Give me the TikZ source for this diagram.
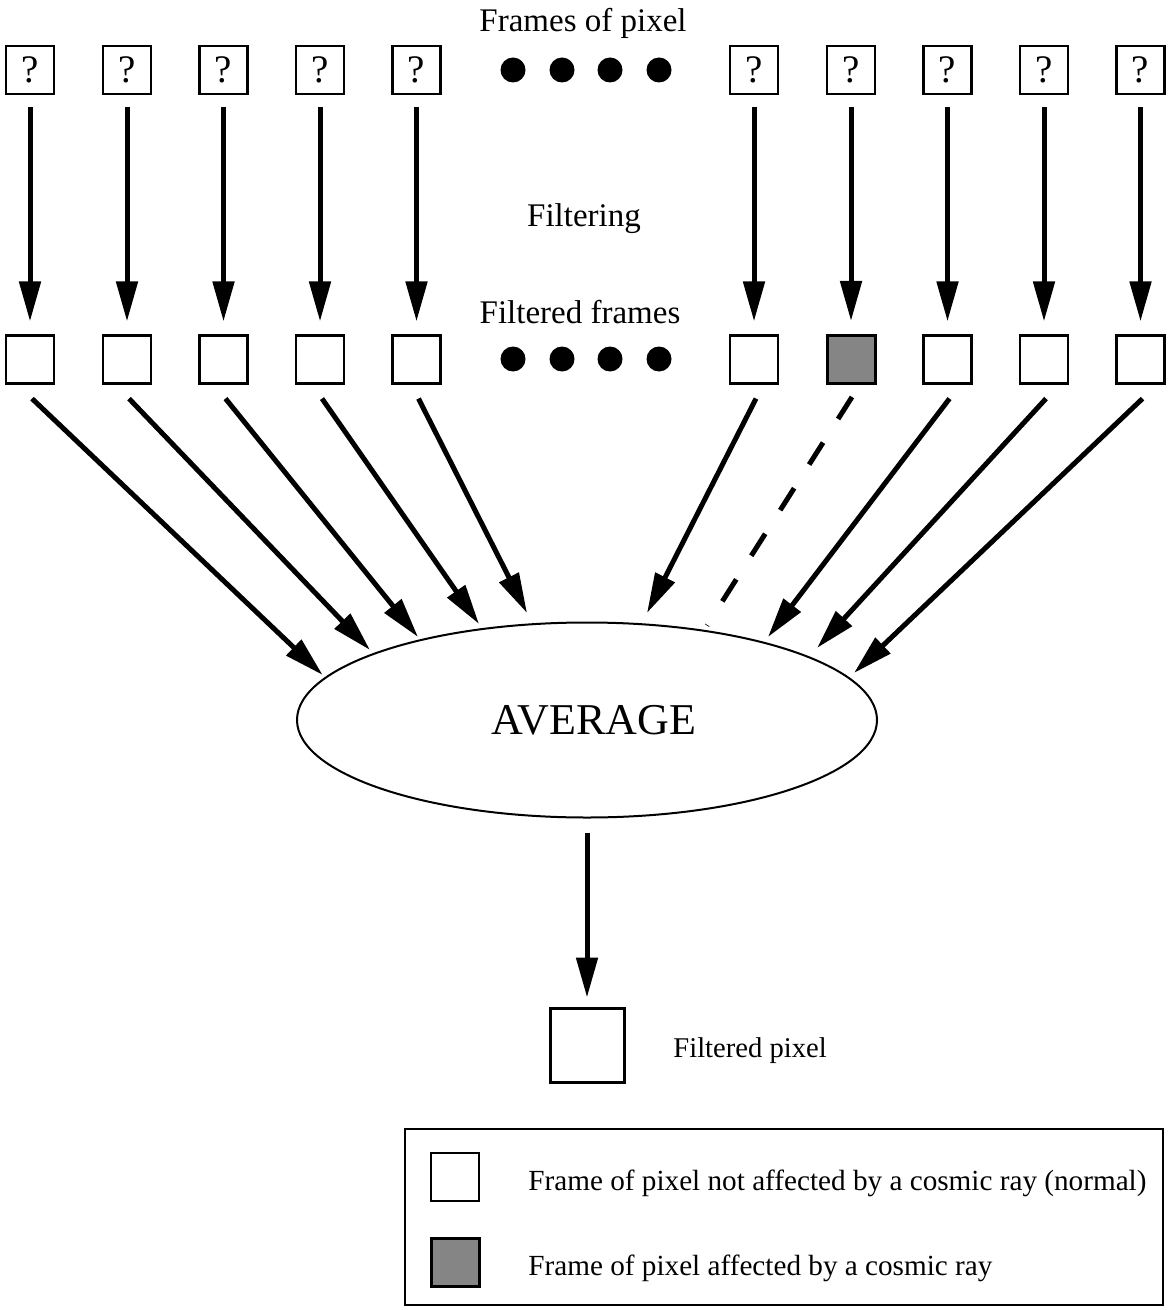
\documentclass[tikz,border=0pt]{standalone}
\usepackage{fontspec}
\setmainfont{Liberation Serif}
\usetikzlibrary{arrows.meta,shapes.geometric,calc}
\begin{document}
\begin{tikzpicture}[x=0.5pt,y=-0.5pt,
  qbox/.style={draw, line width=1.1pt, minimum size=24pt, inner sep=0pt, font=\fontsize{19.5}{19.5}\selectfont},
  plainbox/.style={draw, line width=1.1pt, minimum size=24pt, inner sep=0pt},
  hitbox/.style={plainbox, fill=black!48, line width=1.5pt},
  blob/.style={circle, fill=black, minimum size=12.5pt, inner sep=0pt},
  arr/.style={line width=2.5pt, -{Triangle[length=20pt,width=10.5pt]}},
  dasharr/.style={line width=2.5pt, dash pattern=on 13pt off 14pt},
  lbl/.style={font=\fontsize{16.5}{18}\selectfont, anchor=base, inner sep=0pt},
  legtext/.style={font=\fontsize{14.6}{16}\selectfont, anchor=base west, inner sep=0pt},
]
\useasboundingbox (0,0) rectangle (1167,1310);

% titles
\node[lbl] (tframes) at (583,32) {Frames of pixel};
\node[lbl] (tfilt) at (584,227) {Filtering};
\node[lbl] (tfiltered) at (580,323) {Filtered frames};

% frames of pixel
\node[qbox] (q1) at (30,70) {?};
\node[qbox] (q2) at (127,70) {?};
\node[qbox] (q3) at (223.5,70) {?};
\node[qbox] (q4) at (320,70) {?};
\node[qbox] (q5) at (416.5,70) {?};
\node[qbox] (q6) at (754,70) {?};
\node[qbox] (q7) at (851,70) {?};
\node[qbox] (q8) at (947.5,70) {?};
\node[qbox] (q9) at (1044,70) {?};
\node[qbox] (q10) at (1140.5,70) {?};

% filtered frames
\node[plainbox] (f1) at (30,359.5) {};
\node[plainbox] (f2) at (127,359.5) {};
\node[plainbox] (f3) at (223.5,359.5) {};
\node[plainbox] (f4) at (320,359.5) {};
\node[plainbox] (f5) at (416.5,359.5) {};
\node[plainbox] (f6) at (754,359.5) {};
\node[hitbox] (f7) at (851,359.5) {};
\node[plainbox] (f8) at (947.5,359.5) {};
\node[plainbox] (f9) at (1044,359.5) {};
\node[plainbox] (f10) at (1140.5,359.5) {};

% dots
\foreach \x [count=\k] in {513,562,610,659} {
  \node[blob] (da\k) at (\x,70) {};
  \node[blob] (db\k) at (\x,359) {};
}

% filtering arrows
\foreach \i in {1,...,10} {
  \draw[arr, shorten <=6pt, shorten >=6.5pt] (q\i) -- (f\i);
}

% average
\node[ellipse, draw, line width=1pt, minimum width=290pt, minimum height=97.5pt, inner sep=0pt] (avg) at (587,720) {};
\node[font=\fontsize{22}{22}\selectfont, inner sep=0pt] (avgtext) at (594,720) {AVERAGE};

% arrow tips near the ellipse
\coordinate (t1) at (322.7,675);
\coordinate (t2) at (370,650);
\coordinate (t3) at (418,637);
\coordinate (t4) at (479,624);
\coordinate (t5) at (527,613);
\coordinate (t6) at (647,613);
\coordinate (e7) at (707,625.5);
\coordinate (t8) at (768,637);
\coordinate (t9) at (817,648);
\coordinate (t10) at (854,673);

\foreach \i in {1,2,3,4,5,6,8,9,10} {
  \draw[arr] ($(f\i.south)+(2,14)$) -- (t\i);
}
\draw[dasharr] ($(f7.south)+(1,12)$) -- (e7);

% output
\node[plainbox, minimum size=37pt, line width=1.5pt] (out) at (587,1045) {};
\draw[arr, shorten <=7pt, shorten >=4.5pt] (avg) -- (out);
\node[legtext, font=\fontsize{14.3}{16}\selectfont] (tout) at (673,1057) {Filtered pixel};

% legend
\node[draw, line width=1pt, inner sep=0pt, minimum width=379pt, minimum height=88pt] (legend) at (784,1217) {};
\node[plainbox] (lnorm) at (455,1177) {};
\node[hitbox] (lhit) at (455,1262.5) {};
\node[legtext] (tnorm) at (528,1190) {Frame of pixel not affected by a cosmic ray (normal)};
\node[legtext] (thit) at (528,1275) {Frame of pixel affected by a cosmic ray};
\end{tikzpicture}
\end{document}
